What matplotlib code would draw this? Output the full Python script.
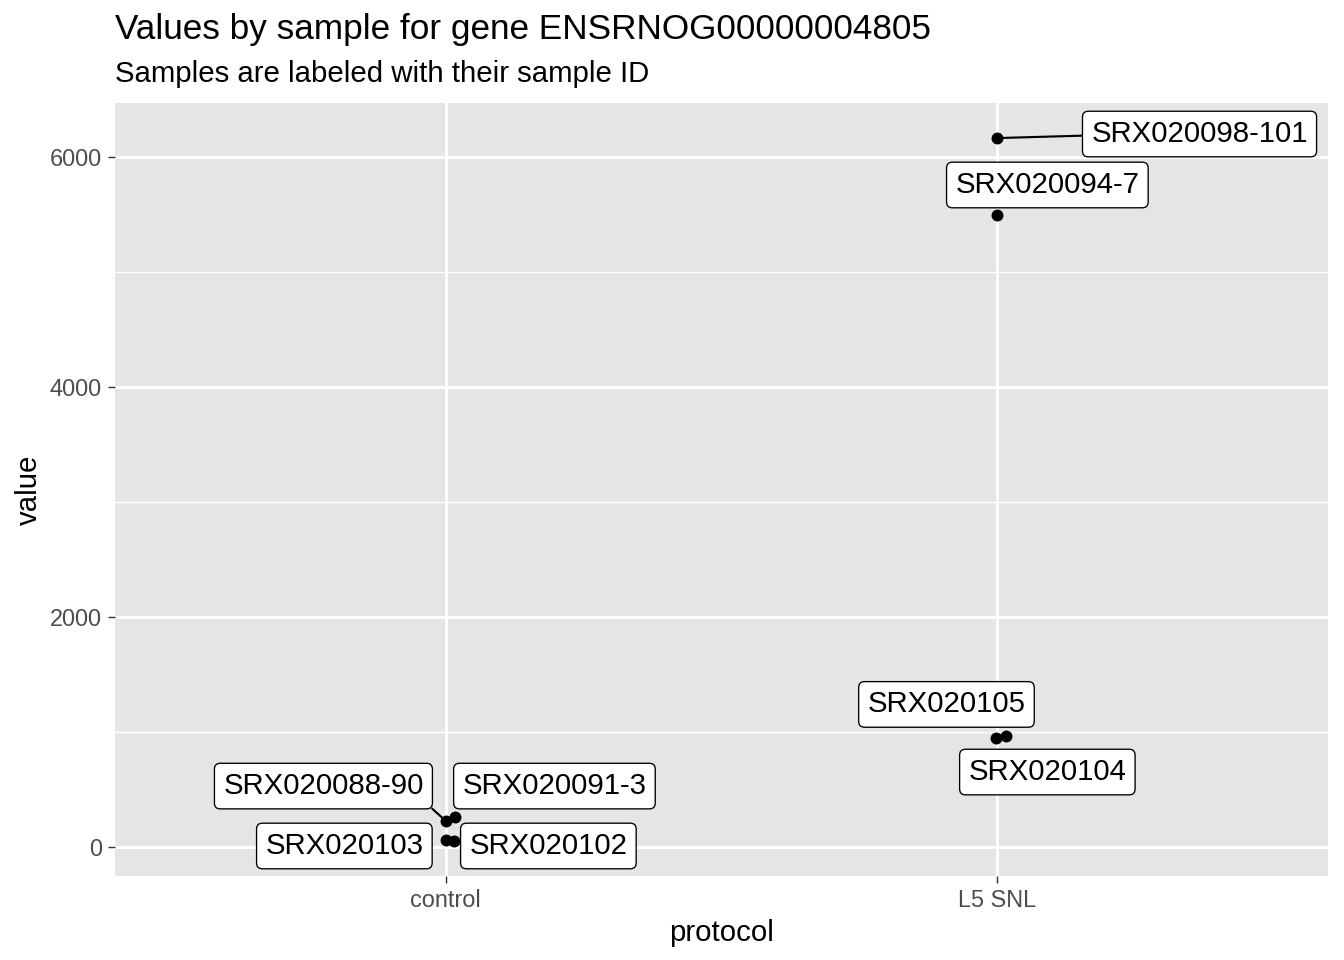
import matplotlib.pyplot as plt
import numpy as np

plt.rcParams['font.family'] = ['Liberation Sans', 'DejaVu Sans']

# data
samples = ['SRX020088-90', 'SRX020091-3', 'SRX020103', 'SRX020102',
           'SRX020098-101', 'SRX020094-7', 'SRX020105', 'SRX020104']
protocol = ['control', 'control', 'control', 'control',
            'L5 SNL', 'L5 SNL', 'L5 SNL', 'L5 SNL']
values = [226, 261, 61, 52, 6165, 5496, 948, 965]
jitter = [0.0, 0.016, 0.0, 0.014, 0.0, 0.0, -0.002, 0.016]
categories = ['control', 'L5 SNL']

# label placement (repel result), data units
label_x = [0.778, 1.197, 0.816, 1.186, 2.367, 2.091, 1.908, 2.091]
label_y = [530, 530, 9, 9, 6200, 5757, 1240, 652]
show_segment = [True, False, False, False, True, False, False, False]

W, H = 1344, 960
fig = plt.figure(figsize=(7, 5), dpi=192)
ax = fig.add_axes([115 / W, 1 - 876 / H, (1328 - 115) / W, (876 - 103) / H])
ax.set_facecolor('#E5E5E5')
for s in ax.spines.values():
    s.set_visible(False)

xpos = [categories.index(p) + 1 + j for p, j in zip(protocol, jitter)]

ax.set_xlim(0.4, 2.6)
ax.set_ylim(-252, 6470)
ax.set_xticks([1, 2])
ax.set_xticklabels(categories)
ax.set_yticks([0, 2000, 4000, 6000])
ax.set_yticks([1000, 3000, 5000], minor=True)
ax.tick_params(axis='both', which='major', length=2.75, width=0.53, color='#333333',
               labelcolor='#4D4D4D', labelsize=8.8, pad=2.2)
ax.tick_params(axis='y', which='minor', length=0)
ax.grid(True, which='major', color='white', linewidth=1.07)
ax.grid(True, which='minor', axis='y', color='white', linewidth=0.53)
ax.set_axisbelow(True)

ax.scatter(xpos, values, s=20, color='black', zorder=3, linewidths=0)

texts = []
for i, name in enumerate(samples):
    t = ax.text(label_x[i], label_y[i], name, fontsize=11, ha='center', va='center',
                zorder=5,
                bbox=dict(boxstyle='round,pad=0.3,rounding_size=0.2', fc='white',
                          ec='black', lw=0.5))
    texts.append(t)

# segments from point to nearest edge of its label box
fig.canvas.draw()
r = fig.canvas.get_renderer()
inv = ax.transData.inverted()
for i, t in enumerate(texts):
    if not show_segment[i]:
        continue
    bb = t.get_bbox_patch().get_window_extent(r)
    px, py = ax.transData.transform((xpos[i], values[i]))
    ex = np.clip(px, bb.x0, bb.x1)
    ey = np.clip(py, bb.y0, bb.y1)
    if ex in (bb.x0, bb.x1) and bb.y0 < py < bb.y1:
        ey = py + 0.3 * (bb.y0 + bb.y1 - 2 * py)
    (x0, y0), (x1, y1) = inv.transform([(px, py), (ex, ey)])
    ax.plot([x0, x1], [y0, y1], color='black', lw=0.8, zorder=2)

ax.set_xlabel('protocol', fontsize=11, labelpad=2.5)
ax.set_ylabel('value', fontsize=11, labelpad=2.5)

fig.text(115 / W, 1 - 30 / H, 'Values by sample for gene ENSRNOG00000004805',
         fontsize=13.2, ha='left', va='center')
fig.text(115 / W, 1 - 74 / H, 'Samples are labeled with their sample ID',
         fontsize=11, ha='left', va='center')

fig.savefig('out.png', dpi=192)
